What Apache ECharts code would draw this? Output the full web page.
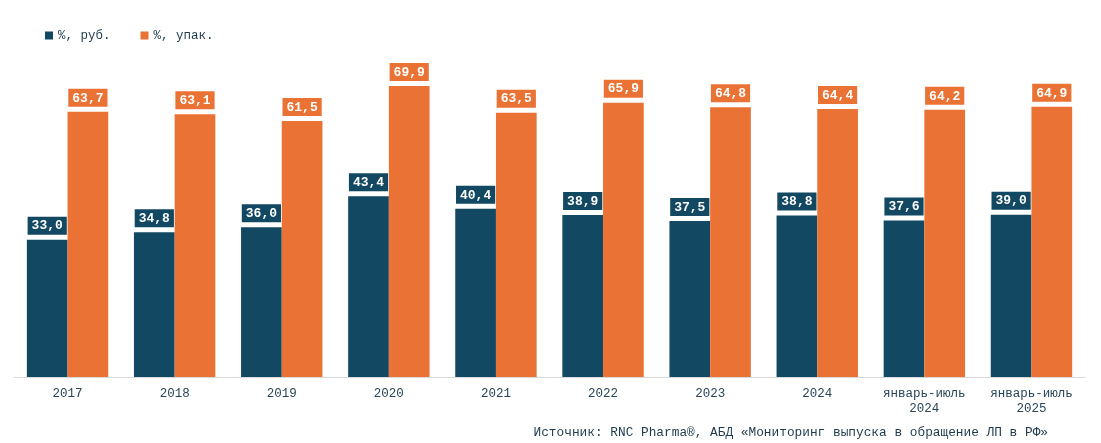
<!DOCTYPE html>
<html><head><meta charset="utf-8">
<script src="https://cdn.jsdelivr.net/npm/echarts@6/dist/echarts.min.js"></script>
<style>html,body{margin:0;padding:0;background:#fff}#c{width:1101px;height:443px}</style>
</head><body><div id="c"></div>
<script>
const categories = ['2017','2018','2019','2020','2021','2022','2023','2024','январь-июль\n2024','январь-июль\n2025'];
const rub = [33.0,34.8,36.0,43.4,40.4,38.9,37.5,38.8,37.6,39.0];
const upak = [63.7,63.1,61.5,69.9,63.5,65.9,64.8,64.4,64.2,64.9];
const seriesNames = ['%, руб.','%, упак.'];
const colors = ['#124862','#ea7234'];
const font = '"Liberation Mono","Courier New",monospace';
const fmt = p => p.value.toFixed(1).replace('.', ',');
const chart = echarts.init(document.getElementById('c'));
function lbl(c){return {show:true,position:'top',distance:5,formatter:fmt,color:'#fff',fontFamily:font,fontWeight:'bold',fontSize:13,backgroundColor:c,padding:[3,4,2,4]};}
chart.setOption({
  animation:false,
  color:colors,
  textStyle:{fontFamily:font},
  legend:{left:40,top:24,itemWidth:8,itemHeight:8,itemGap:30,icon:'rect',textStyle:{fontFamily:font,fontSize:12.5,color:'#1f3a4c'},data:seriesNames},
  title:{text:'Источник: RNC Pharma®, АБД «Мониторинг выпуска в обращение ЛП в РФ»',right:48,top:421,textStyle:{fontFamily:font,fontSize:12.8,fontWeight:'normal',color:'#1f3a4c'}},
  grid:{left:14,right:16,top:44,bottom:66,containLabel:false},
  xAxis:{type:'category',data:categories,axisLine:{lineStyle:{color:'#d9d9d9'}},axisTick:{show:false},axisLabel:{interval:0,hideOverlap:false,fontFamily:font,fontSize:12.5,color:'#2a4558',margin:9,lineHeight:15}},
  yAxis:{type:'value',min:0,max:80,show:false,splitLine:{show:false}},
  series:[
    {name:seriesNames[0],type:'bar',data:rub,barWidth:'38%',barGap:'0%',itemStyle:{color:colors[0]},label:lbl(colors[0])},
    {name:seriesNames[1],type:'bar',data:upak,barWidth:'38%',barGap:'0%',itemStyle:{color:colors[1]},label:lbl(colors[1])}
  ]
});
</script></body></html>
